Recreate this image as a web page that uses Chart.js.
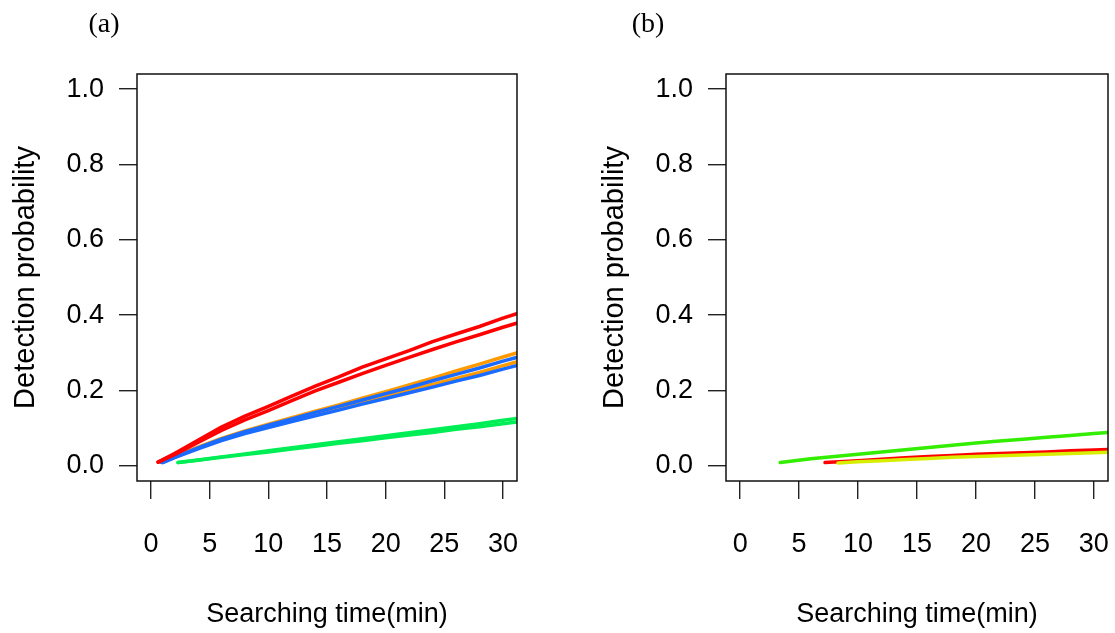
<!DOCTYPE html>
<html>
<head>
<meta charset="utf-8">
<script src="https://cdn.jsdelivr.net/npm/chart.js@4.4.1/dist/chart.umd.min.js"></script>
<style>
  html, body { margin: 0; padding: 0; background: #fff; }
  #wrap { position: relative; width: 1115px; height: 633px; }
  canvas { position: absolute; top: 0; }
  #chartA { left: 0; }
  #chartB { left: 557px; }
</style>
</head>
<body>
<div id="wrap">
  <canvas id="chartA" width="557" height="633" style="width:557px;height:633px"></canvas>
  <canvas id="chartB" width="558" height="633" style="width:558px;height:633px"></canvas>
</div>
<script>
// axis ticks
const xTicks = [0, 5, 10, 15, 20, 25, 30];
const yTicks = [0, 0.2, 0.4, 0.6, 0.8, 1.0];

// panel (a)
const redHiTime = [0.6, 2, 4, 6, 8, 10, 12, 14, 16, 18, 20, 22, 24, 26, 28, 30, 32];
const redHiProb = [0.010, 0.033, 0.068, 0.103, 0.132, 0.158, 0.185, 0.212, 0.236, 0.262, 0.284, 0.306, 0.330, 0.350, 0.370, 0.392, 0.412];
const redLoTime = [0.6, 2, 4, 6, 8, 10, 12, 14, 16, 18, 20, 22, 24, 26, 28, 30, 32];
const redLoProb = [0.010, 0.030, 0.062, 0.094, 0.122, 0.147, 0.173, 0.199, 0.222, 0.245, 0.267, 0.288, 0.309, 0.329, 0.348, 0.368, 0.386];
const orangeHiTime = [0.8, 2, 4, 6, 8, 10, 12, 14, 16, 18, 20, 22, 24, 26, 28, 30, 32];
const orangeHiProb = [0.010, 0.025, 0.050, 0.073, 0.093, 0.111, 0.128, 0.145, 0.162, 0.180, 0.197, 0.215, 0.233, 0.252, 0.270, 0.289, 0.307];
const orangeLoTime = [0.8, 2, 4, 6, 8, 10, 12, 14, 16, 18, 20, 22, 24, 26, 28, 30, 32];
const orangeLoProb = [0.010, 0.024, 0.048, 0.070, 0.089, 0.106, 0.122, 0.138, 0.153, 0.169, 0.185, 0.200, 0.216, 0.232, 0.248, 0.266, 0.283];
const blueHiTime = [0.9, 2, 4, 6, 8, 10, 12, 14, 16, 18, 20, 22, 24, 26, 28, 30, 32];
const blueHiProb = [0.009, 0.023, 0.048, 0.071, 0.091, 0.108, 0.125, 0.142, 0.158, 0.175, 0.192, 0.208, 0.226, 0.243, 0.260, 0.278, 0.295];
const blueLoTime = [1.0, 2, 4, 6, 8, 10, 12, 14, 16, 18, 20, 22, 24, 26, 28, 30, 32];
const blueLoProb = [0.009, 0.022, 0.045, 0.067, 0.086, 0.102, 0.118, 0.133, 0.148, 0.164, 0.179, 0.194, 0.209, 0.225, 0.240, 0.257, 0.273];
const greenHiTime = [2.3, 4, 6, 8, 10, 12, 14, 16, 18, 20, 22, 24, 26, 28, 30, 32];
const greenHiProb = [0.009, 0.016, 0.024, 0.032, 0.040, 0.048, 0.056, 0.064, 0.072, 0.080, 0.088, 0.096, 0.104, 0.112, 0.121, 0.129];
const greenLoTime = [2.3, 4, 6, 8, 10, 12, 14, 16, 18, 20, 22, 24, 26, 28, 30, 32];
const greenLoProb = [0.009, 0.015, 0.023, 0.030, 0.037, 0.045, 0.052, 0.060, 0.067, 0.075, 0.082, 0.089, 0.097, 0.104, 0.112, 0.120];

// panel (b)
const greenBTime = [3.4, 6, 8, 10, 12, 14, 16, 18, 20, 22, 24, 26, 28, 30, 32];
const greenBProb = [0.009, 0.019, 0.025, 0.031, 0.037, 0.043, 0.049, 0.055, 0.061, 0.066, 0.071, 0.076, 0.081, 0.086, 0.091];
const redBTime = [7.2, 10, 12, 14, 16, 18, 20, 22, 24, 26, 28, 30, 32];
const redBProb = [0.009, 0.014, 0.018, 0.022, 0.025, 0.028, 0.031, 0.033, 0.035, 0.037, 0.040, 0.042, 0.045];
const yellowBTime = [8.3, 10, 12, 14, 16, 18, 20, 22, 24, 26, 28, 30, 32];
const yellowBProb = [0.008, 0.011, 0.014, 0.017, 0.020, 0.023, 0.025, 0.027, 0.029, 0.031, 0.033, 0.035, 0.037];

const sans = '"Liberation Sans", Arial, sans-serif';

function pts(xs, ys) {
  return xs.map((x, i) => ({ x: x, y: ys[i] }));
}

function line(xs, ys, color) {
  return {
    data: pts(xs, ys),
    borderColor: color,
    borderWidth: 3.5,
    pointRadius: 0,
    fill: false,
    tension: 0,
    clip: 0,
    borderCapStyle: 'round',
    borderJoinStyle: 'round'
  };
}

const boxPlugin = {
  id: 'box',
  afterDatasetsDraw(chart) {
    const a = chart.chartArea;
    const ctx = chart.ctx;
    ctx.save();
    ctx.strokeStyle = '#111';
    ctx.lineWidth = 1.5;
    ctx.strokeRect(a.left, a.top, a.right - a.left, a.bottom - a.top);
    ctx.restore();
  }
};

const panelLabel = {
  id: 'panelLabel',
  afterDraw(chart, args, opts) {
    const ctx = chart.ctx;
    ctx.save();
    ctx.font = '28px "Liberation Serif", "Times New Roman", serif';
    ctx.fillStyle = '#000';
    ctx.textAlign = 'center';
    ctx.textBaseline = 'middle';
    ctx.fillText(opts.text, opts.x, opts.y);
    ctx.restore();
  }
};

function makeOptions(padLeft, padRight, label, labelX) {
  return {
    responsive: false,
    animation: false,
    layout: { padding: { left: padLeft, right: padRight, top: 74, bottom: 0 } },
    plugins: {
      legend: { display: false },
      tooltip: { enabled: false },
      panelLabel: { text: label, x: labelX, y: 25 }
    },
    scales: {
      x: {
        type: 'linear',
        min: -1.2,
        max: 31.2,
        afterBuildTicks: s => { s.ticks = xTicks.map(v => ({ value: v })); },
        afterFit: s => { s.height = 152; s.paddingLeft = 0; s.paddingRight = 0; },
        grid: { drawOnChartArea: false, drawTicks: true, tickLength: 18, color: '#222', lineWidth: 1.4 },
        border: { display: false },
        ticks: { padding: 29, color: '#000', maxRotation: 0, autoSkip: false, font: { family: sans, size: 27 } },
        title: { display: true, text: 'Searching time(min)', color: '#000', font: { family: sans, size: 27 }, padding: { top: 0, bottom: 2 } }
      },
      y: {
        type: 'linear',
        min: -0.04,
        max: 1.04,
        afterBuildTicks: s => { s.ticks = yTicks.map(v => ({ value: v })); },
        afterFit: s => { s.width = 137; },
        grid: { drawOnChartArea: false, drawTicks: true, tickLength: 18, color: '#222', lineWidth: 1.4 },
        border: { display: false },
        ticks: { padding: 15, color: '#000', autoSkip: false, font: { family: sans, size: 27 }, callback: v => v.toFixed(1) },
        title: { display: true, text: 'Detection probability', color: '#000', font: { family: sans, size: 29 }, padding: { top: 9, bottom: 0 } }
      }
    }
  };
}

document.addEventListener("DOMContentLoaded", function() {
  new Chart(document.getElementById('chartA'), {
    type: 'line',
    data: {
      datasets: [
        line(redHiTime, redHiProb, '#FF0000'),
        line(redLoTime, redLoProb, '#FF0000'),
        line(blueHiTime, blueHiProb, '#1A6BFF'),
        line(blueLoTime, blueLoProb, '#1A6BFF'),
        line(orangeHiTime, orangeHiProb, '#FF9A00'),
        line(orangeLoTime, orangeLoProb, '#FF9A00'),
        line(greenHiTime, greenHiProb, '#00EE55'),
        line(greenLoTime, greenLoProb, '#00EE55')
      ]
    },
    options: makeOptions(0, 40, '(a)', 104),
    plugins: [boxPlugin, panelLabel]
  });

  new Chart(document.getElementById('chartB'), {
    type: 'line',
    data: {
      datasets: [
        line(yellowBTime, yellowBProb, '#D8EE00'),
        line(redBTime, redBProb, '#FF0000'),
        line(greenBTime, greenBProb, '#33EE00')
      ]
    },
    options: makeOptions(32, 7, '(b)', 91),
    plugins: [boxPlugin, panelLabel]
  });
});
</script>
</body>
</html>
